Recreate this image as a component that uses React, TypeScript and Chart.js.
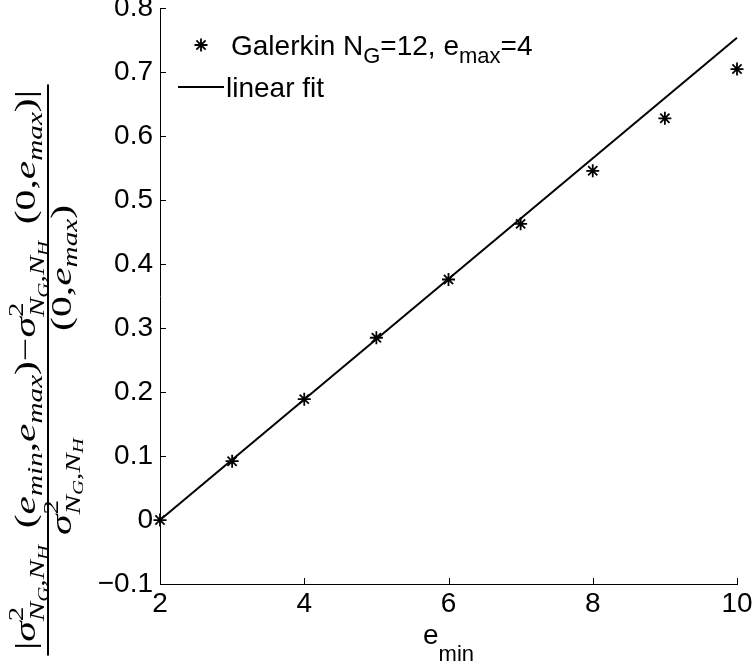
import React, { useEffect, useRef } from 'react';
import { Chart, registerables } from 'chart.js';

Chart.register(...registerables);

// ---- data ----
const eMin = [2, 3, 4, 5, 6, 7, 8, 9, 10];
const galerkin = [0, 0.092, 0.189, 0.285, 0.376, 0.463, 0.546, 0.628, 0.705];
const fitX = [2, 10];
const fitY = [0, 0.754];
const xTicks = [2, 4, 6, 8, 10];
const xTickLabels = ['2', '4', '6', '8', '10'];
const yTicks = [-0.1, 0, 0.1, 0.2, 0.3, 0.4, 0.5, 0.6, 0.7, 0.8];
const yTickLabels = ['\u22120.1', '0', '0.1', '0.2', '0.3', '0.4', '0.5', '0.6', '0.7', '0.8'];

const SANS = '"Liberation Sans", Arial, sans-serif';
const SERIF = '"Liberation Serif", "Times New Roman", serif';
const TICK_FONT = 28;
const SUB_FONT = 22;

type Run = { t: string; size: number; dy: number; it?: boolean; noAdv?: boolean; fam?: string };

function runFont(r: Run, fam: string) {
  return `${r.it ? 'italic ' : ''}${r.size}px ${r.fam || fam}`;
}
function measureRuns(ctx: CanvasRenderingContext2D, runs: Run[], fam: string) {
  let w = 0;
  for (const r of runs) {
    ctx.font = runFont(r, fam);
    if (!r.noAdv) w += ctx.measureText(r.t).width;
  }
  return w;
}
function drawRuns(ctx: CanvasRenderingContext2D, runs: Run[], fam: string, x0: number, y0: number) {
  let x = x0;
  for (const r of runs) {
    ctx.font = runFont(r, fam);
    ctx.fillText(r.t, x, y0 + r.dy);
    if (!r.noAdv) x += ctx.measureText(r.t).width;
  }
  return x;
}

function yLabelRuns(F: number) {
  const s1 = F * 0.7;
  const s2 = F * 0.5;
  const sig = (): Run[] => [
    { t: '\u03C3', size: F, dy: 0, it: true },
    { t: '2', size: s1, dy: -0.42 * F, noAdv: true },
    { t: 'N', size: s1, dy: 0.3 * F, it: true },
    { t: 'G', size: s2, dy: 0.42 * F, it: true },
    { t: ',', size: s1, dy: 0.3 * F },
    { t: 'N', size: s1, dy: 0.3 * F, it: true },
    { t: 'H', size: s2, dy: 0.42 * F, it: true },
  ];
  const gap: Run = { t: '\u2009\u2009', size: F, dy: 0 };
  const e = (sub: string): Run[] => [
    { t: 'e', size: F, dy: 0, it: true },
    { t: sub, size: s1, dy: 0.22 * F, it: true },
  ];
  const tx = (t: string): Run => ({ t, size: F, dy: 0 });
  const num: Run[] = [
    tx('|'), ...sig(), gap, tx('('), ...e('min'), tx(','), ...e('max'), tx(')'), tx('\u2212'),
    ...sig(), gap, tx('(0,'), ...e('max'), tx(')|'),
  ];
  const denA: Run[] = [...sig()];
  const denB: Run[] = [tx('(0,'), ...e('max'), tx(')')];
  return { num, denA, denB };
}

const overlayPlugin = {
  id: 'overlay',
  afterDraw(chart: any) {
    const ctx: CanvasRenderingContext2D = chart.ctx;
    const xs = chart.scales.x;
    const ys = chart.scales.y;
    const area = chart.chartArea;
    ctx.save();
    ctx.strokeStyle = '#000';
    ctx.fillStyle = '#000';
    ctx.lineWidth = 1;
    // inward tick marks
    const TL = 6;
    ctx.beginPath();
    for (const v of xTicks) {
      const px = Math.round(xs.getPixelForValue(v)) + 0.5;
      ctx.moveTo(px, area.bottom);
      ctx.lineTo(px, area.bottom - TL);
    }
    for (const v of yTicks) {
      const py = Math.round(ys.getPixelForValue(v)) + 0.5;
      ctx.moveTo(area.left, py);
      ctx.lineTo(area.left + TL, py);
    }
    ctx.stroke();

    // x title e_min
    ctx.textBaseline = 'alphabetic';
    ctx.textAlign = 'left';
    const xr: Run[] = [
      { t: 'e', size: TICK_FONT, dy: 0 },
      { t: 'min', size: SUB_FONT, dy: 17 },
    ];
    const xw = measureRuns(ctx, xr, SANS);
    drawRuns(ctx, xr, SANS, (area.left + area.right) / 2 - xw / 2, 644);

    // legend
    const ax = 201, ay = 45, r = 6.5;
    ctx.lineWidth = 1.8;
    ctx.beginPath();
    ctx.moveTo(ax - r, ay); ctx.lineTo(ax + r, ay);
    ctx.moveTo(ax, ay - r); ctx.lineTo(ax, ay + r);
    const d = r * Math.SQRT1_2;
    ctx.moveTo(ax - d, ay - d); ctx.lineTo(ax + d, ay + d);
    ctx.moveTo(ax - d, ay + d); ctx.lineTo(ax + d, ay - d);
    ctx.stroke();
    const l1: Run[] = [
      { t: 'Galerkin N', size: TICK_FONT, dy: 0 },
      { t: 'G', size: SUB_FONT, dy: 8 },
      { t: '=12, e', size: TICK_FONT, dy: 0 },
      { t: 'max', size: SUB_FONT, dy: 8 },
      { t: '=4', size: TICK_FONT, dy: 0 },
    ];
    drawRuns(ctx, l1, SANS, 231, 55);
    ctx.lineWidth = 2;
    ctx.beginPath();
    ctx.moveTo(178, 87); ctx.lineTo(224, 87);
    ctx.stroke();
    drawRuns(ctx, [{ t: 'linear fit', size: TICK_FONT, dy: 0 }], SANS, 226, 97);

    // y label (rotated fraction), stretched along its length to the reference span
    const F = 30;
    const { num, denA, denB } = yLabelRuns(F);
    const nw = measureRuns(ctx, num, SERIF);
    const barX = 48;
    const cy = 370;
    const targetLen = 560;
    const sx = targetLen / nw;
    const denTarget = 330 / sx;
    const wB = measureRuns(ctx, denB, SERIF);
    ctx.translate(barX, cy);
    ctx.rotate(-Math.PI / 2);
    ctx.scale(sx, 1);
    const bw = nw + 8;
    ctx.fillRect(-bw / 2, -1, bw, 2);
    drawRuns(ctx, num, SERIF, -nw / 2, -0.42 * F);
    const dBase = 0.76 * F;
    drawRuns(ctx, denA, SERIF, -denTarget / 2, dBase);
    drawRuns(ctx, denB, SERIF, denTarget / 2 - wB, dBase);
    ctx.restore();
  },
};

export default function App() {
  const ref = useRef<HTMLCanvasElement | null>(null);
  useEffect(() => {
    if (!ref.current) return;
    const chart = new Chart(ref.current, {
      type: 'scatter',
      data: {
        datasets: [
          {
            label: 'Galerkin',
            data: eMin.map((x, i) => ({ x, y: galerkin[i] })),
            showLine: false,
            pointStyle: 'star',
            pointRadius: 6.5,
            pointBorderWidth: 1.8,
            borderColor: '#000',
            backgroundColor: '#000',
            clip: false,
          } as any,
          {
            label: 'linear fit',
            data: fitX.map((x, i) => ({ x, y: fitY[i] })),
            showLine: true,
            pointRadius: 0,
            borderColor: '#000',
            borderWidth: 2,
            clip: false,
          } as any,
        ],
      },
      options: {
        responsive: false,
        animation: false,
        devicePixelRatio: 1,
        layout: { padding: { top: 7, right: 16, bottom: 0, left: 0 } },
        plugins: { legend: { display: false }, tooltip: { enabled: false } },
        scales: {
          x: {
            type: 'linear',
            min: 2,
            max: 10,
            afterBuildTicks: (s: any) => { s.ticks = xTicks.map((v) => ({ value: v })); },
            afterFit: (s: any) => { s.height = 86; s.paddingLeft = 0; s.paddingRight = 0; },
            ticks: {
              autoSkip: false,
              maxRotation: 0,
              padding: 3,
              color: '#000',
              font: { family: SANS, size: TICK_FONT },
              callback: (v: any) => xTickLabels[xTicks.indexOf(Number(v))] ?? '',
            },
            grid: { display: false, drawTicks: false },
            border: { display: true, color: '#000', width: 1 },
          },
          y: {
            type: 'linear',
            min: -0.1,
            max: 0.8,
            afterBuildTicks: (s: any) => { s.ticks = yTicks.map((v) => ({ value: v })); },
            afterFit: (s: any) => { s.width = 160; s.paddingTop = 0; s.paddingBottom = 0; },
            ticks: {
              autoSkip: false,
              padding: 7,
              color: '#000',
              font: { family: SANS, size: TICK_FONT },
              callback: (v: any) => {
                const i = yTicks.findIndex((t) => Math.abs(t - Number(v)) < 1e-9);
                return i >= 0 ? yTickLabels[i] : '';
              },
            },
            grid: { display: false, drawTicks: false },
            border: { display: true, color: '#000', width: 1 },
          },
        },
      },
      plugins: [overlayPlugin],
    });
    return () => chart.destroy();
  }, []);
  return (
    <div style={{ position: 'absolute', left: 0, top: 0, width: 753, height: 670, background: '#fff' }}>
      <canvas ref={ref} width={753} height={670} style={{ display: 'block' }} />
    </div>
  );
}
